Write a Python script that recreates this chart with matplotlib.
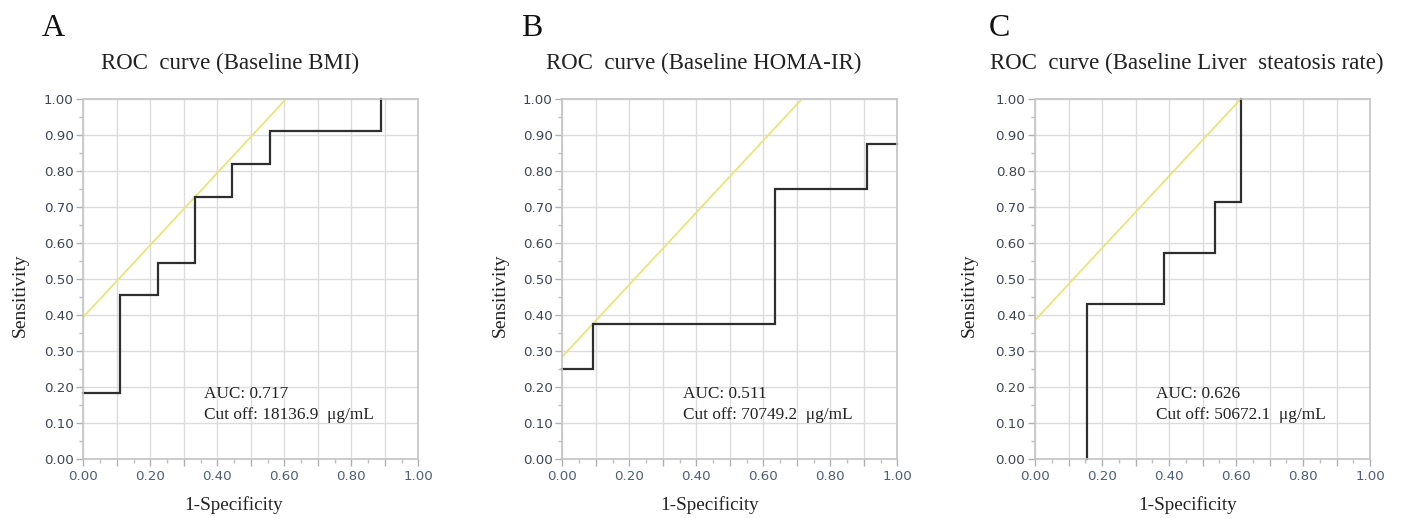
import matplotlib
matplotlib.use("Agg")
import matplotlib.pyplot as plt
from matplotlib.ticker import MultipleLocator, FuncFormatter

W, H = 1402, 518

panel_letters = ["A", "B", "C"]
titles = ["ROC  curve (Baseline BMI)",
          "ROC  curve (Baseline HOMA-IR)",
          "ROC  curve (Baseline Liver  steatosis rate)"]

# ROC step curves (1-Specificity, Sensitivity)
fpr_A = [0.0, 0.111, 0.111, 0.222, 0.222, 0.333, 0.333, 0.444, 0.444, 0.556, 0.556, 0.889, 0.889]
tpr_A = [0.182, 0.182, 0.455, 0.455, 0.545, 0.545, 0.727, 0.727, 0.818, 0.818, 0.909, 0.909, 1.0]
fpr_B = [0.0, 0.091, 0.091, 0.636, 0.636, 0.909, 0.909, 1.0]
tpr_B = [0.25, 0.25, 0.375, 0.375, 0.75, 0.75, 0.875, 0.875]
fpr_C = [0.154, 0.154, 0.385, 0.385, 0.538, 0.538, 0.615, 0.615]
tpr_C = [0.0, 0.429, 0.429, 0.571, 0.571, 0.714, 0.714, 1.0]

# tangent (slope 1) lines: intercepts
intercepts = [0.394, 0.284, 0.385]

auc_texts = ["AUC: 0.717", "AUC: 0.511", "AUC: 0.626"]
cutoff_texts = ["Cut off: 18136.9  \u03bcg/mL", "Cut off: 70749.2  \u03bcg/mL", "Cut off: 50672.1  \u03bcg/mL"]

fprs = [fpr_A, fpr_B, fpr_C]
tprs = [tpr_A, tpr_B, tpr_C]

# layout (pixels)
ax_left = [83.3, 562.3, 1035.0]
ax_width = 335.0
ax_top, ax_bottom = 98.7, 459.0
letter_x = [42, 521, 989]
title_cx = [230.5, 704.0, 1186.7]
xlabel_cx = [234.0, 709.5, 1188.0]
ylabel_cx = [20.0, 500.0, 969.0]

serif = ["Liberation Serif", "DejaVu Serif"]

fig = plt.figure(figsize=(W / 100, H / 100), dpi=100)

def fx(px):
    return px / W

def fy(py):
    return 1 - py / H

grid_c = "#dcdcdc"
spine_c = "#c4c4c4"

for i in range(3):
    ax = fig.add_axes([fx(ax_left[i]), fy(ax_bottom), ax_width / W, (ax_bottom - ax_top) / H])
    ax.set_xlim(0, 1)
    ax.set_ylim(0, 1)
    ax.xaxis.set_major_locator(MultipleLocator(0.1))
    ax.xaxis.set_minor_locator(MultipleLocator(0.05))
    ax.yaxis.set_major_locator(MultipleLocator(0.1))
    ax.yaxis.set_minor_locator(MultipleLocator(0.05))
    ax.xaxis.set_major_formatter(FuncFormatter(
        lambda v, p: f"{v:.2f}" if round(v * 10) % 2 == 0 else ""))
    ax.yaxis.set_major_formatter(FuncFormatter(lambda v, p: f"{v:.2f}"))
    ax.grid(True, which="major", color=grid_c, lw=1.0)
    ax.set_axisbelow(True)
    for s in ax.spines.values():
        s.set_color(spine_c)
        s.set_linewidth(1.2)
    ax.tick_params(axis="both", which="major", length=5, width=1, color="#b0b0b0",
                   labelsize=9.6, pad=2)
    ax.tick_params(axis="both", which="minor", length=3, width=1, color="#c0c0c0")
    ax.tick_params(axis="x", labelcolor="#4e5f75", pad=3)
    ax.tick_params(axis="y", labelcolor="#3e4552")

    # tangent line
    b = intercepts[i]
    ax.plot([0, 1 - b], [b, 1], color="#e6e67a", lw=1.3, solid_capstyle="butt", clip_on=False)
    # ROC curve
    ax.plot(fprs[i], tprs[i], color="#2e2e2e", lw=1.6, solid_joinstyle="miter", clip_on=False)

    ax.text(0.36, 0.169, auc_texts[i], family=serif, fontsize=12.4, color="#222222",
            va="baseline", ha="left")
    ax.text(0.36, 0.111, cutoff_texts[i], family=serif, fontsize=12.4, color="#222222",
            va="baseline", ha="left")

    fig.text(fx(letter_x[i]), fy(36), panel_letters[i], family=serif, fontsize=23,
             color="#111111", va="baseline", ha="left")
    fig.text(fx(title_cx[i]), fy(69), titles[i], family=serif, fontsize=16.5,
             color="#222222", va="baseline", ha="center")
    fig.text(fx(xlabel_cx[i]), fy(510), "1-Specificity", family=serif, fontsize=13.8,
             color="#222222", va="baseline", ha="center")
    fig.text(fx(ylabel_cx[i]), fy(295), "Sensitivity", family=serif, fontsize=14,
             color="#222222", va="center", ha="center", rotation=90)

fig.savefig("out.png", dpi=100)
